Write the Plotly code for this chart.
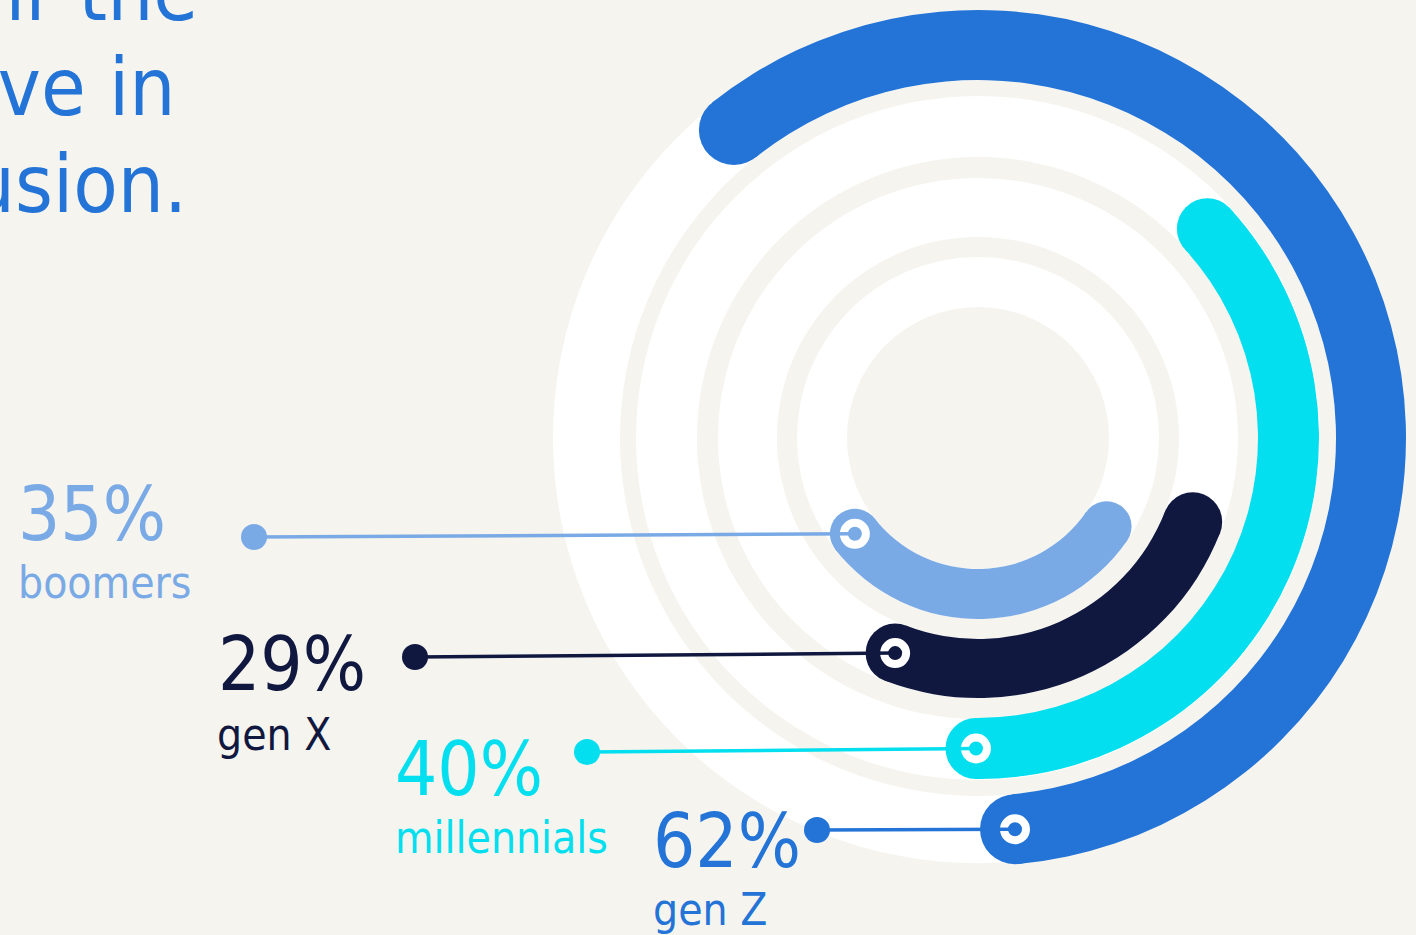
import math
import plotly.graph_objects as go

# ---------------- data ----------------
groups = ["boomers", "gen X", "millennials", "gen Z"]
values = [35, 29, 40, 62]            # percent
pct_labels = ["35%", "29%", "40%", "62%"]

title_lines = [
    "Share who want brands to help repair the",
    "divides in the communities they live in",
    "through diversity and inclusion.",
]

# ---------------- layout / style constants ----------------
W, H = 1416, 935
BG = "#f5f4ef"
FONT = "DejaVu Sans Condensed, DejaVu Sans, sans-serif"
colors = ["#7aaae6", "#101840", "#03dfee", "#2374d6"]
band_inner = [131, 201, 280, 358]
band_outer = [181, 260, 341, 428]
white_bands = [(131, 181), (201, 260), (281, 342), (358, 425)]
start_angle = [-151.3, -118.4, -96.0, -89.7]      # deg, outer edge of start cap
dot_px = [(254, 537), (415, 657), (587, 752), (817, 830)]
pct_pos = [(18, 540), (218, 690), (395, 795), (653, 867)]   # left, baseline
lab_pos = [(18, 598), (217, 750), (395, 853), (653, 925)]
title_right = [196, 173, 185]
title_base = [20, 115, 212]
PCT_FS, LAB_FS, TITLE_FS = 74, 44, 81

CX, CY, R = 978, 438, 430   # polar center / radius in px


def fx(px):
    return px / W


def fy(py):
    return 1 - py / H


fig = go.Figure()

# background white bands (gaps show the page colour as grey rings)
for (a, b) in white_bands:
    fig.add_trace(go.Barpolar(
        r=[b - a], base=[a], theta=[0], width=[360],
        marker=dict(color="white", line=dict(width=0)),
        hoverinfo="skip", showlegend=False))

ring_px = []
for i, v in enumerate(values):
    w = band_outer[i] - band_inner[i]
    rc = (band_outer[i] + band_inner[i]) / 2
    h = math.degrees((w / 2) / rc)
    total = v * 3.6
    a0 = start_angle[i] + h
    a1 = start_angle[i] + total - h
    fig.add_trace(go.Barpolar(
        r=[w], base=[band_inner[i]], theta=[(a0 + a1) / 2], width=[a1 - a0],
        marker=dict(color=colors[i], line=dict(width=0)),
        name=groups[i], hoverinfo="skip", showlegend=False))
    fig.add_trace(go.Scatterpolar(
        r=[rc, rc], theta=[a0, a1], mode="markers",
        marker=dict(size=w, color=colors[i], line=dict(width=0)),
        hoverinfo="skip", showlegend=False))
    fig.add_trace(go.Scatterpolar(
        r=[rc], theta=[a0], mode="markers",
        marker=dict(symbol="circle-open", size=22, color="white", line=dict(width=8)),
        hoverinfo="skip", showlegend=False))
    ring_px.append((CX + rc * math.cos(math.radians(a0)),
                    CY - rc * math.sin(math.radians(a0))))

shapes = []
annotations = []
for i in range(len(values)):
    dx, dy = dot_px[i]
    rx, ry = ring_px[i]
    shapes.append(dict(type="line", xref="paper", yref="paper",
                       x0=fx(dx), y0=fy(dy), x1=fx(rx), y1=fy(ry),
                       line=dict(color=colors[i], width=3.5), layer="above"))
    rd = 13
    shapes.append(dict(type="circle", xref="paper", yref="paper",
                       x0=fx(dx - rd), x1=fx(dx + rd), y0=fy(dy + rd), y1=fy(dy - rd),
                       fillcolor=colors[i], line=dict(width=0), layer="above"))
    px_, pb = pct_pos[i]
    annotations.append(dict(xref="paper", yref="paper", x=fx(px_ - 2),
                            y=fy(pb - 0.346 * PCT_FS), xanchor="left", yanchor="middle",
                            text=pct_labels[i], showarrow=False,
                            font=dict(family=FONT, size=PCT_FS, color=colors[i])))
    lx, lb = lab_pos[i]
    annotations.append(dict(xref="paper", yref="paper", x=fx(lx - 2),
                            y=fy(lb - 0.346 * LAB_FS), xanchor="left", yanchor="middle",
                            text=groups[i], showarrow=False,
                            font=dict(family=FONT, size=LAB_FS, color=colors[i])))

for j, line in enumerate(title_lines):
    annotations.append(dict(xref="paper", yref="paper", x=fx(title_right[j] + 4),
                            y=fy(title_base[j] - 0.346 * TITLE_FS),
                            xanchor="right", yanchor="middle", text=line,
                            showarrow=False,
                            font=dict(family=FONT, size=TITLE_FS, color="#2374d6")))

fig.update_layout(
    width=W, height=H,
    margin=dict(l=0, r=0, t=0, b=0),
    paper_bgcolor=BG, plot_bgcolor=BG,
    showlegend=False,
    polar=dict(
        domain=dict(x=[(CX - R) / W, (CX + R) / W],
                    y=[(H - CY - R) / H, (H - CY + R) / H]),
        bgcolor="rgba(0,0,0,0)",
        barmode="overlay",
        radialaxis=dict(range=[0, R], visible=False, showgrid=False),
        angularaxis=dict(rotation=0, direction="counterclockwise", visible=False,
                         showgrid=False, thetaunit="degrees"),
    ),
    shapes=shapes,
    annotations=annotations,
)

fig.write_html(
    "out.html",
    config={"displayModeBar": False},
    post_script="document.body.style.margin='0';document.body.style.padding='0';"
                "document.body.style.background='" + BG + "';",
)
